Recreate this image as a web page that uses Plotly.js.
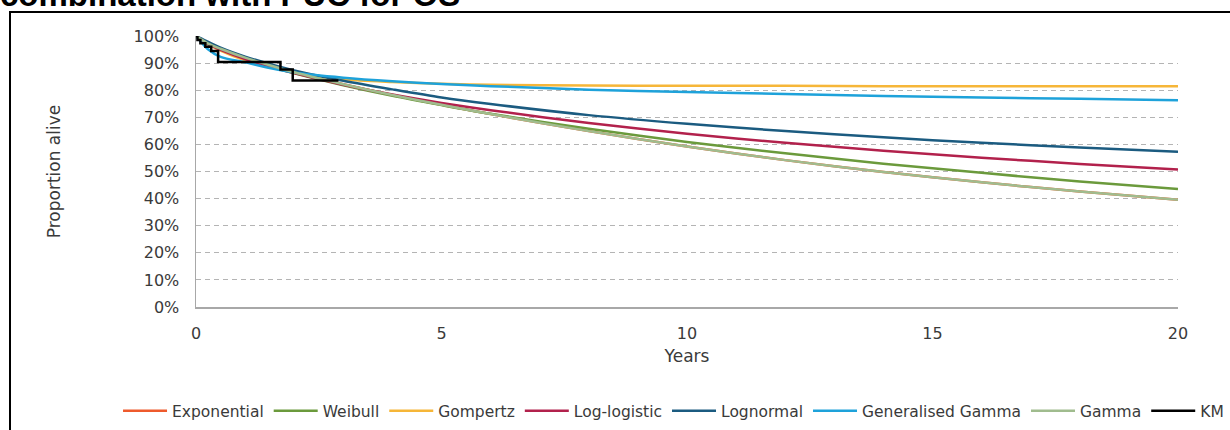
<!DOCTYPE html>
<html>
<head>
<meta charset="utf-8">
<script src="https://cdn.plot.ly/plotly-3.0.1.min.js"></script>
<style>
  html, body { margin: 0; padding: 0; background: #ffffff; }
  #box { position: absolute; left: 9px; top: 11px; width: 1400px; height: 600px;
         border-left: 2px solid #000; border-top: 2px solid #000; }
  #chart { position: absolute; left: 0; top: 0; width: 1230px; height: 430px; }
</style>
</head>
<body>
<div id="box"></div>
<div id="chart"></div>
<script>
// Time grid (years) for fitted curves
const years = [0, 0.25, 0.5, 1, 1.5, 2, 3, 4, 5, 6, 8, 10, 12, 14, 16, 18, 20];

// Proportion alive (%)
const exponential = [100, 97.2, 95.3, 92.0, 89.2, 86.6, 82.2, 78.2, 74.6, 71.2, 64.9, 59.2, 54.2, 49.8, 46.0, 42.6, 39.6];
const weibull     = [100, 96.9, 94.9, 91.5, 88.7, 86.2, 81.8, 77.9, 74.5, 71.3, 65.8, 60.9, 56.7, 52.9, 49.5, 46.3, 43.5];
const gompertz    = [100, 97.0, 94.6, 91.0, 88.5, 86.6, 84.0, 83.0, 82.4, 82.0, 81.7, 81.6, 81.6, 81.5, 81.5, 81.5, 81.5];
const loglogistic = [100, 97.0, 94.9, 91.5, 88.7, 86.3, 82.0, 78.4, 75.3, 72.6, 67.9, 63.9, 60.6, 57.7, 55.1, 52.8, 50.7];
const lognormal   = [100, 97.8, 95.7, 92.4, 89.7, 87.3, 83.5, 80.3, 77.3, 74.9, 70.8, 67.6, 64.9, 62.6, 60.6, 58.9, 57.3];
const genGamma    = [100, 95.0, 92.3, 90.3, 88.2, 86.5, 84.6, 83.3, 82.3, 81.5, 80.2, 79.3, 78.6, 77.9, 77.3, 76.8, 76.3];
const gamma       = [100, 97.2, 95.3, 92.0, 89.2, 86.6, 82.2, 78.2, 74.6, 71.2, 64.9, 59.2, 54.2, 49.8, 46.0, 42.6, 39.6];

// Kaplan-Meier steps
const kmYears = [0, 0.03, 0.09, 0.19, 0.31, 0.45, 1.72, 1.97, 2.90];
const kmSurv  = [100, 98.5, 97.3, 96.0, 94.5, 90.4, 87.6, 83.6, 83.6];

const seriesNames = ['Exponential', 'Weibull', 'Gompertz', 'Log-logistic', 'Lognormal', 'Generalised Gamma', 'Gamma', 'KM'];
const seriesColors = ['#EE5A2C', '#6B9A3C', '#F6B638', '#B2214C', '#1B5B80', '#1EA2DA', '#A0BC8E', '#000000'];
const seriesData = [exponential, weibull, gompertz, loglogistic, lognormal, genGamma, gamma];

const traces = seriesData.map((ys, i) => ({
  type: 'scatter', mode: 'lines', name: seriesNames[i],
  x: years, y: ys,
  line: { color: seriesColors[i], width: 2.5, shape: 'spline', smoothing: 0.8 }
}));
traces.push({
  type: 'scatter', mode: 'lines', name: seriesNames[7],
  x: kmYears, y: kmSurv,
  line: { color: seriesColors[7], width: 2.5, shape: 'hv' }
});

const fam = 'DejaVu Sans, Verdana, sans-serif';
const tickFont = { family: fam, size: 16, color: '#3a3a3a' };

const layout = {
  width: 1230, height: 430,
  paper_bgcolor: 'rgba(0,0,0,0)', plot_bgcolor: 'rgba(0,0,0,0)',
  margin: { l: 196, r: 52, t: 36, b: 123, autoexpand: false },
  title: {
    text: '<b>combination with PUC for OS</b>',
    font: { family: 'Liberation Sans, Arial, sans-serif', size: 33, color: '#000' },
    x: 0, xref: 'container', xanchor: 'left',
    y: 0.986, yref: 'container', yanchor: 'bottom'
  },
  showlegend: true,
  legend: {
    orientation: 'h', xref: 'paper', x: -0.0794, xanchor: 'left',
    yref: 'paper', y: -0.384, yanchor: 'middle',
    font: { family: fam, size: 15.5, color: '#3a3a3a' },
    traceorder: 'normal', itemwidth: 44, bgcolor: 'rgba(0,0,0,0)'
  },
  xaxis: {
    range: [0, 20], dtick: 5, tick0: 0,
    showgrid: false, zeroline: false,
    showline: true, linecolor: '#a8a8a8', linewidth: 1.5,
    ticks: 'outside', ticklen: 11, tickcolor: 'rgba(0,0,0,0)',
    tickfont: tickFont,
    title: { text: 'Years', font: { family: fam, size: 17, color: '#3a3a3a' }, standoff: 8 }
  },
  yaxis: {
    range: [0, 100], dtick: 10, tick0: 0, ticksuffix: '%',
    showgrid: true, gridcolor: '#b4b4b4', gridwidth: 1, griddash: '5px,4px',
    zeroline: false,
    showline: true, linecolor: '#a8a8a8', linewidth: 1.5,
    ticks: 'outside', ticklen: 12, tickcolor: 'rgba(0,0,0,0)',
    tickfont: tickFont,
    title: { text: 'Proportion alive', font: { family: fam, size: 17, color: '#3a3a3a' }, standoff: 68 }
  }
};

Plotly.newPlot('chart', traces, layout, { displayModeBar: false, staticPlot: true });
</script>
</body>
</html>
